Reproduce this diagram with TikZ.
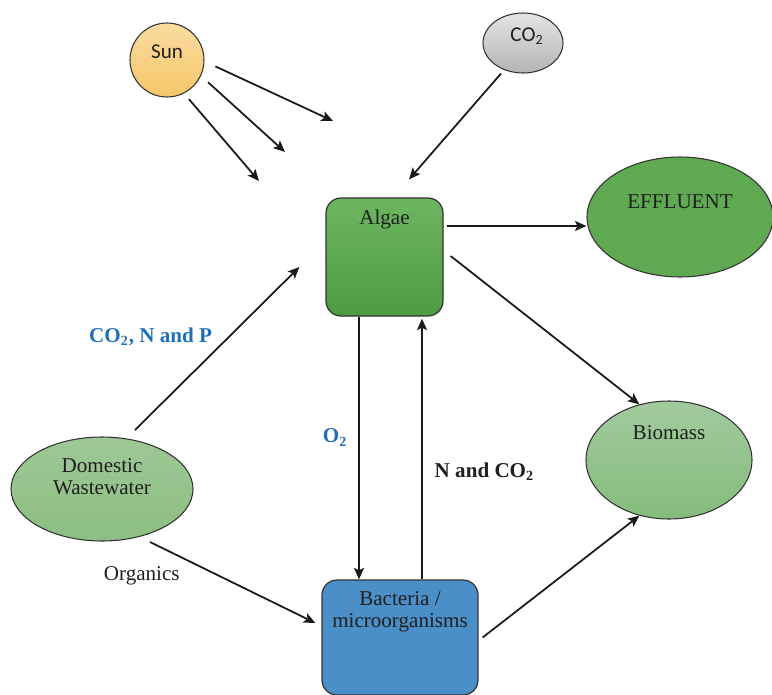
\documentclass[tikz,border=0pt]{standalone}
\usepackage{fontspec}
\setmainfont{Liberation Serif}
\newfontfamily\carlito{Carlito}
\usetikzlibrary{shapes.geometric, arrows.meta}

\definecolor{sunTop}{RGB}{250,220,160}
\definecolor{sunBot}{RGB}{245,198,104}
\definecolor{co2Top}{RGB}{228,228,228}
\definecolor{co2Bot}{RGB}{180,180,180}
\definecolor{algTop}{RGB}{108,182,95}
\definecolor{algBot}{RGB}{78,155,68}
\definecolor{effl}{RGB}{94,169,82}
\definecolor{bioTop}{RGB}{162,202,158}
\definecolor{bioBot}{RGB}{133,188,124}
\definecolor{dwTop}{RGB}{158,200,150}
\definecolor{dwBot}{RGB}{140,190,130}
\definecolor{bakt}{RGB}{74,143,199}
\definecolor{blau}{RGB}{31,112,186}

\begin{document}
\begin{tikzpicture}[
		>={Stealth[length=2.3mm, width=2mm, inset=0.5mm]},
		strz/.style={->, line width=1pt, draw=black!90},
		ramka/.style={rectangle, draw=black!80, line width=0.7pt, rounded corners=0.3cm},
		owal/.style={ellipse, draw=black!80, line width=0.6pt, inner sep=0pt},
		napis/.style={font=\fontsize{12}{12.5}\selectfont, text=black!88, align=center},
		napisSans/.style={font=\carlito\fontsize{12}{12.5}\selectfont, text=black!88},
		opis/.style={font=\bfseries\fontsize{12}{14}\selectfont, text=black!88}
	]
		\useasboundingbox (0,0) rectangle (15.44,-13.88);
		
		% zrodla
		\node[owal, circle, minimum size=1.48cm, top color=sunTop, bottom color=sunBot,
			label={[napisSans, yshift=0.16cm]center:Sun}] (sun) at (3.34,-1.20) {};
		\node[owal, minimum width=1.6cm, minimum height=1.2cm, top color=co2Top, bottom color=co2Bot,
			label={[napisSans, xshift=0.08cm, yshift=0.14cm]center:{CO\textsubscript{2}}}] (co2) at (10.46,-0.86) {};
		
		% bloki
		\node[ramka, minimum width=2.34cm, minimum height=2.36cm, top color=algTop, bottom color=algBot,
			label={[napis, yshift=0.75cm]center:Algae}] (alg) at (7.69,-5.14) {};
		\node[ramka, minimum width=3.12cm, minimum height=2.3cm, fill=bakt,
			label={[napis, yshift=0.51cm]center:{Bacteria /\\microorganisms}}] (bak) at (8.00,-12.75) {};
		
		\node[owal, minimum width=3.72cm, minimum height=2.4cm, fill=effl,
			label={[napis, yshift=0.31cm]center:EFFLUENT}] (eff) at (13.60,-4.34) {};
		\node[owal, minimum width=3.32cm, minimum height=2.36cm, top color=bioTop, bottom color=bioBot,
			label={[napis, yshift=0.55cm]center:Biomass}] (bio) at (13.38,-9.20) {};
		\node[owal, minimum width=3.64cm, minimum height=2.08cm, top color=dwTop, bottom color=dwBot,
			label={[napis, yshift=0.24cm]center:{Domestic\\Wastewater}}] (dw) at (2.04,-9.78) {};
		
		% promienie slonca
		\coordinate (ray1) at (6.66,-2.42);
		\coordinate (ray2) at (5.70,-3.04);
		\coordinate (ray3) at (5.18,-3.62);
		\draw[strz, shorten <=0.24cm] (sun.-2) -- (ray1);
		\draw[strz, shorten <=0.19cm] (sun.-25) -- (ray2);
		\draw[strz, shorten <=0.15cm] (sun.-63) -- (ray3);
		
		\draw[strz] ([xshift=-0.44cm]co2.south) -- ([shift={(0.49,0.36)}]alg.north);
		
		% przeplywy
		\draw[strz] ([shift={(0.06,0.62)}]alg.east) coordinate (e1) -- (e1 -| eff.west);
		\draw[strz] ([shift={(0.14,0.02)}]alg.east) -- (bio.118);
		
		\draw[strz] ([shift={(0.66,1.18)}]dw.center) -- node[opis, text=blau, pos=0.57, left=0.2cm] {CO\textsubscript{2}, N and P} ([shift={(-0.52,-0.20)}]alg.west);
		\draw[strz] ([shift={(0.96,-1.06)}]dw.center) -- node[napis, pos=0.22, anchor=north east] {Organics} ([shift={(-0.12,0.29)}]bak.west);
		
		\draw[strz] ([xshift=-0.51cm]alg.south) coordinate (o) -- node[opis, text=blau, pos=0.46, left=0.1cm] {O\textsubscript{2}} (o |- bak.north);
		\draw[strz, shorten >=0.04cm] ([xshift=0.44cm]bak.north) coordinate (n) -- node[opis, pos=0.41, right=0.12cm] {N and CO\textsubscript{2}} (n |- alg.south);
		
		\draw[strz] ([xshift=0.08cm]bak.east) -- (bio.242);
	\end{tikzpicture}
\end{document}
